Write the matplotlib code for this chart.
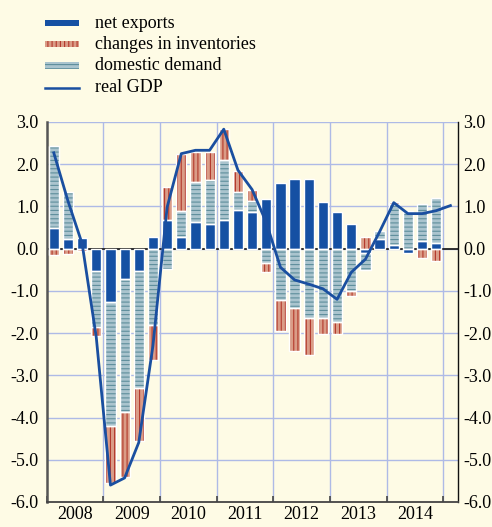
import matplotlib
matplotlib.use('Agg')
import matplotlib.pyplot as plt
import numpy as np
from matplotlib.patches import Rectangle
from matplotlib.lines import Line2D

plt.rcParams['font.family'] = ['Liberation Serif', 'DejaVu Serif']
plt.rcParams['axes.unicode_minus'] = False
plt.rcParams['hatch.linewidth'] = 0.8

# ---------------- data (quarterly, 2008Q1 .. 2014Q4) ----------------
years = ['2008', '2009', '2010', '2011', '2012', '2013', '2014']

net_exports = [0.49, 0.23, 0.25, -0.52,
               -1.26, -0.72, -0.54, 0.27,
               0.68, 0.28, 0.63, 0.59,
               0.68, 0.92, 0.86, 1.18,
               1.55, 1.64, 1.64, 1.10,
               0.86, 0.59, -0.11, 0.23,
               0.08, -0.11, 0.17, 0.13]

domestic_demand = [1.95, 1.11, 0.00, -1.34,
                   -2.95, -3.14, -2.76, -1.81,
                   -0.49, 0.61, 0.96, 1.03,
                   1.43, 0.42, 0.27, -0.33,
                   -1.22, -1.41, -1.64, -1.65,
                   -1.73, -1.00, -0.40, 0.18,
                   0.97, 0.86, 0.88, 1.07]

inventories = [-0.14, -0.12, -0.05, -0.21,
               -1.35, -1.54, -1.26, -0.82,
               0.78, 1.36, 0.70, 0.67,
               0.72, 0.50, 0.25, -0.23,
               -0.73, -1.02, -0.87, -0.38,
               -0.30, -0.12, 0.27, 0.00,
               0.05, 0.04, -0.21, -0.30]

# real GDP, 2008Q1 .. 2015Q1
real_gdp = [2.27, 1.13, 0.12, -2.10,
            -5.60, -5.43, -4.59, -2.30,
            0.98, 2.25, 2.33, 2.33,
            2.83, 1.86, 1.40, 0.62,
            -0.44, -0.74, -0.84, -0.95,
            -1.20, -0.56, -0.25, 0.40,
            1.09, 0.83, 0.83, 0.90,
            1.02]

labels = ['net exports', 'changes in inventories', 'domestic demand', 'real GDP']

# ---------------- styles ----------------
BG = '#FEFBE5'
NE_C = '#1550A3'
INV_FILL, INV_LINE = '#DA9C87', '#B3392C'
DD_FILL, DD_LINE = '#AAC4CE', '#5E8E9C'
GDP_C = '#1A4FA0'
GRID_C = '#AEBAE6'

W, H = 492, 527
fig = plt.figure(figsize=(W / 100, H / 100), dpi=100, facecolor=BG)
x0, x1, ytop, ybot = 46.7, 457.5, 122, 502
ax = fig.add_axes([x0 / W, (H - ybot) / H, (x1 - x0) / W, (ybot - ytop) / H])
ax.set_facecolor(BG)
nq = len(net_exports)
ax.set_xlim(0, nq + 1)
ax.set_ylim(-6, 3)

qx = np.arange(nq) + 0.5
gx = np.arange(len(real_gdp)) + 0.5

# grid
for yv in range(-5, 4):
    ax.axhline(yv, color=GRID_C, lw=1.0, zorder=1)
for xv in range(4, nq + 1, 4):
    ax.axvline(xv, color=GRID_C, lw=1.0, zorder=1)
ax.axhline(0, color='#222222', lw=1.3, zorder=2)

# stacked bars
series = [(net_exports, NE_C, None, NE_C),
          (domestic_demand, DD_FILL, '----', DD_LINE),
          (inventories, INV_FILL, '||||', INV_LINE)]
pos = np.zeros(nq)
neg = np.zeros(nq)
bw = 0.72
for vals, fc, hatch, hc in series:
    v = np.array(vals, dtype=float)
    m = v != 0
    base = np.where(v >= 0, pos, neg)
    ax.bar(qx[m], v[m], bottom=base[m], width=bw, color=fc, hatch=hatch,
           edgecolor=hc, linewidth=0, zorder=3)
    ax.bar(qx[m], v[m], bottom=base[m], width=bw, fill=False,
           edgecolor='white', linewidth=1.0, zorder=4)
    pos = pos + np.where(v > 0, v, 0)
    neg = neg + np.where(v < 0, v, 0)

ax.plot(gx, real_gdp, color=GDP_C, lw=2.0, zorder=5)

# spines
ax.spines['top'].set_visible(False)
ax.spines['left'].set_color('#555555')
ax.spines['left'].set_linewidth(1.8)
ax.spines['bottom'].set_color('#444444')
ax.spines['bottom'].set_linewidth(1.3)
ax.spines['right'].set_color('#111111')
ax.spines['right'].set_linewidth(1.0)

yt = np.arange(-6, 4)
ax.set_yticks(yt)
ax.set_yticklabels([f'{v:.1f}' for v in yt])
ax.tick_params(axis='y', length=0, pad=6, labelsize=13)

ax2 = ax.twinx()
ax2.set_ylim(-6, 3)
ax2.set_yticks(yt)
ax2.set_yticklabels([f'{v:.1f}' for v in yt])
ax2.tick_params(axis='y', length=0, pad=4, labelsize=13)
for s in ax2.spines.values():
    s.set_visible(False)

ax.set_xticks(np.arange(0, nq + 1, 4))
ax.set_xticklabels([])
ax.tick_params(axis='x', which='major', direction='in', length=4, width=1.2, color='#444444')
ax.set_xticks(np.arange(2, nq, 4), minor=True)
ax.set_xticklabels(years, minor=True)
ax.tick_params(axis='x', which='minor', length=0, pad=3, labelsize=13)

# legend (manual)
lx, lw_ = 45, 34
def frect(y_top, h, **kw):
    r = Rectangle((lx / W, 1 - (y_top + h) / H), lw_ / W, h / H,
                  transform=fig.transFigure, **kw)
    fig.add_artist(r)

frect(20, 6, facecolor=NE_C, edgecolor=NE_C, linewidth=0)
frect(41, 6, facecolor=INV_FILL, edgecolor=INV_LINE, hatch='||||', linewidth=0)
frect(62, 7, facecolor=DD_FILL, edgecolor=DD_LINE, hatch='----', linewidth=0)
fig.add_artist(Line2D([lx / W, (lx + lw_) / W], [1 - 87.5 / H, 1 - 87.5 / H],
                      transform=fig.transFigure, color=GDP_C, lw=1.8))
for lab, yc in zip(labels, [23, 44.5, 66, 88]):
    fig.text(95 / W, 1 - yc / H, lab, va='center', ha='left', fontsize=13)

fig.savefig('out.png', dpi=100, facecolor=BG)
